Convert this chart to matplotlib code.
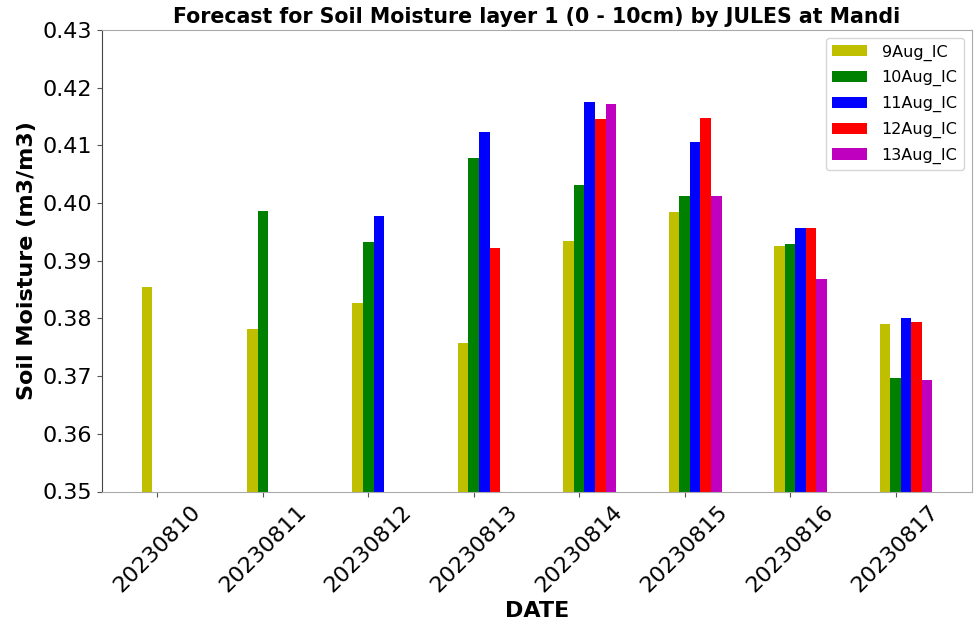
import numpy as np
import matplotlib
matplotlib.use("Agg")
import matplotlib.pyplot as plt

dates = ["20230810", "20230811", "20230812", "20230813",
         "20230814", "20230815", "20230816", "20230817"]
series_names = ["9Aug_IC", "10Aug_IC", "11Aug_IC", "12Aug_IC", "13Aug_IC"]
series_colors = ["y", "g", "b", "r", "m"]

nan = np.nan
ic_9aug = [0.3855, 0.3781, 0.3827, 0.3757, 0.3934, 0.3985, 0.3925, 0.3790]
ic_10aug = [nan, 0.3986, 0.3932, 0.4078, 0.4031, 0.4012, 0.3929, 0.3697]
ic_11aug = [nan, nan, 0.3978, 0.4124, 0.4175, 0.4106, 0.3957, 0.3800]
ic_12aug = [nan, nan, nan, 0.3922, 0.4145, 0.4147, 0.3957, 0.3793]
ic_13aug = [nan, nan, nan, nan, 0.4172, 0.4013, 0.3868, 0.3693]
series_values = [ic_9aug, ic_10aug, ic_11aug, ic_12aug, ic_13aug]

fig = plt.figure(figsize=(9.74, 6.23), dpi=100)
ax = fig.add_axes([102 / 974, 1 - 491.5 / 623, 870 / 974, (491.5 - 30) / 623])

x = np.arange(len(dates))
width = 0.1
for i, (name, vals, col) in enumerate(zip(series_names, series_values, series_colors)):
    ax.bar(x + (i - 1) * width, vals, width, color=col, label=name)

ax.set_ylim(0.35, 0.43)
ax.set_yticks(np.arange(0.35, 0.4301, 0.01))
ax.set_yticklabels([f"{v:.2f}" for v in np.arange(0.35, 0.4301, 0.01)], fontsize=16)
ax.set_xticks(x)
ax.set_xticklabels(dates, rotation=45, fontsize=16)

ax.set_xlabel("DATE", fontsize=16, fontweight="bold")
ax.set_ylabel("Soil Moisture (m3/m3)", fontsize=16, fontweight="bold")
ax.set_title("Forecast for Soil Moisture layer 1 (0 - 10cm) by JULES at Mandi",
             fontsize=14.8, fontweight="bold", pad=5)

for side in ["top", "right", "bottom"]:
    ax.spines[side].set_color("#aaaaaa")
ax.spines["left"].set_color("#444444")
ax.tick_params(colors="#555555", labelcolor="black")

ax.legend(loc="upper right", fontsize=11.5, handletextpad=0.9,
          labelspacing=0.6, handlelength=2.2)

fig.savefig("out.png", dpi=100)
